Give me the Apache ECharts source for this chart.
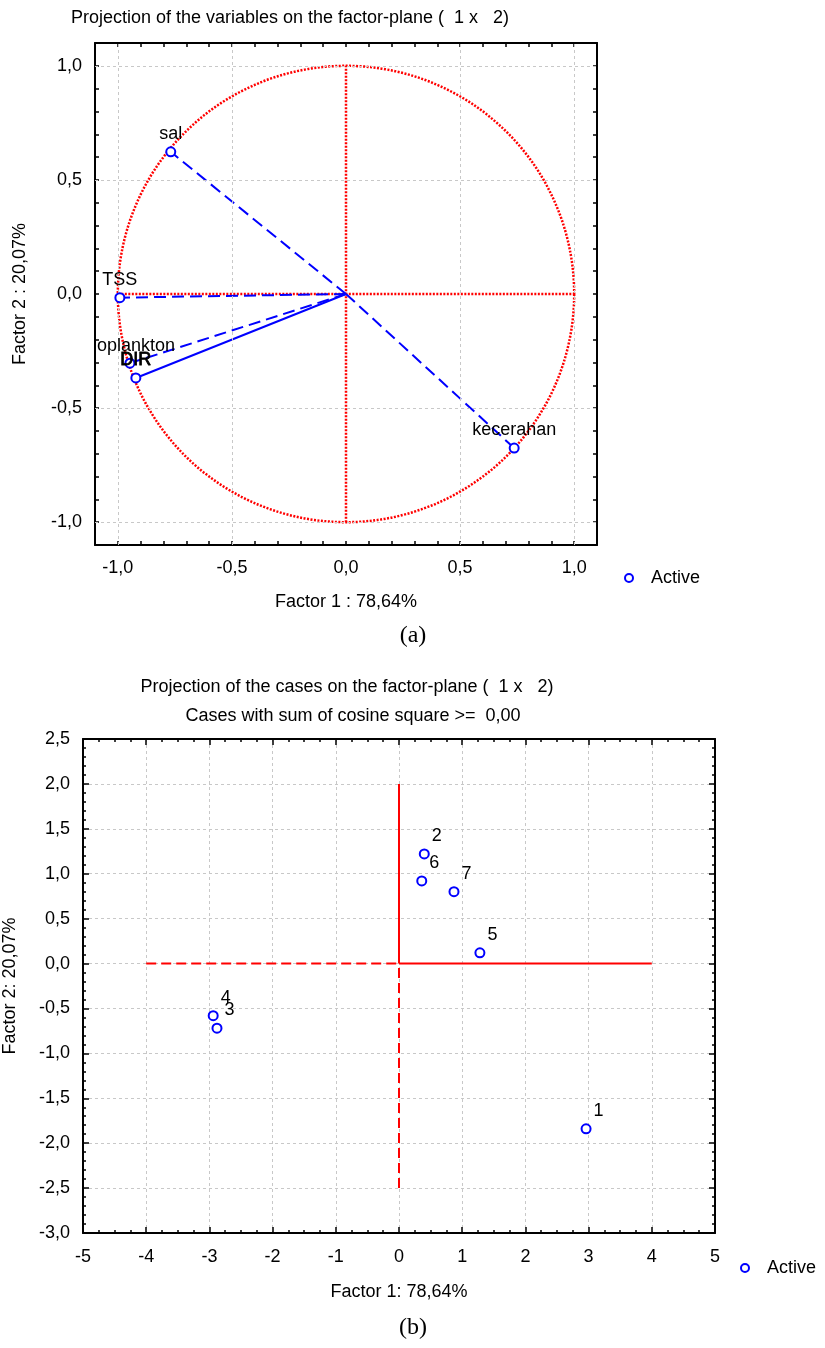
<!DOCTYPE html>
<html>
<head>
<meta charset="utf-8">
<script src="https://cdn.jsdelivr.net/npm/echarts@6/dist/echarts.min.js"></script>
<style>
  html, body { margin: 0; padding: 0; background: #fff; }
  #main { width: 825px; height: 1348px; }
</style>
</head>
<body>
<div id="main"></div>
<script>
// (a) projection of the variables
const varNames = ['sal', 'TSS', 'oplankton', 'DIR', 'kecerahan'];
const varF1 = [-0.768, -0.991, -0.947, -0.921, 0.737];
const varF2 = [0.623, -0.016, -0.303, -0.368, -0.675];
const varSolid = [false, false, false, true, false];
const unitCircle = [[0, 0, 1]];
const crossH = [[-1, 0], [1, 0]];
const crossV = [[0, -1], [0, 1]];
const varGridTicks = [-1, -0.5, 0.5, 1];

// (b) projection of the cases
const caseIds = ['1', '2', '3', '4', '5', '6', '7'];
const caseF1 = [2.96, 0.40, -2.88, -2.94, 1.28, 0.36, 0.87];
const caseF2 = [-1.84, 1.22, -0.72, -0.58, 0.12, 0.92, 0.80];
const refSolid = [[[0, 0], [4, 0]], [[0, 0], [0, 2]]];
const refDashed = [[[-4, 0], [0, 0]], [[0, -2.5], [0, 0]]];

const FONT = 'Liberation Sans';
const BLUE = '#0000ff';
const RED = '#ff0000';
const FS = 18;

function comma(v, d) {
  return v.toFixed(d).replace('.', ',');
}

const chart = echarts.init(document.getElementById('main'));

// axis helpers
function boxAxis(gridIndex, pos, min, max, interval, minorSplit, tickLen) {
  return {
    gridIndex: gridIndex, type: 'value', position: pos,
    min: min, max: max, interval: interval,
    axisLine: { show: true, onZero: false, lineStyle: { color: '#000', width: 2 } },
    axisTick: { show: true, inside: true, length: tickLen, lineStyle: { color: '#000', width: 1.5 } },
    minorTick: minorSplit ? { show: true, splitNumber: minorSplit, length: 3, lineStyle: { color: '#000', width: 1.5 } } : { show: false },
    axisLabel: { show: false },
    splitLine: { show: false }
  };
}

const nameStyle = { fontSize: FS, fontFamily: FONT, color: '#000' };

function halfStep(v) {
  return Math.abs(v * 2 - Math.round(v * 2)) < 1e-6 ? comma(v, 1) : '';
}

const xA0 = boxAxis(0, 'bottom', -1.1, 1.1, 0.1, 0, 4);
xA0.axisLabel = { show: true, margin: 14, fontSize: FS, fontFamily: FONT, color: '#000', formatter: halfStep };
xA0.name = 'Factor 1 : 78,64%';
xA0.nameLocation = 'middle';
xA0.nameGap = 48;
xA0.nameTextStyle = nameStyle;

const yA0 = boxAxis(0, 'left', -1.1, 1.1, 0.1, 0, 4);
yA0.axisLabel = { show: true, margin: 13, fontSize: FS, fontFamily: FONT, color: '#000', formatter: halfStep };
yA0.name = 'Factor 2 : 20,07%';
yA0.nameLocation = 'middle';
yA0.nameGap = 66;
yA0.nameTextStyle = nameStyle;

const xA1 = boxAxis(0, 'top', -1.1, 1.1, 0.1, 0, 4);
const yA1 = boxAxis(0, 'right', -1.1, 1.1, 0.1, 0, 4);

const xB0 = boxAxis(1, 'bottom', -5, 5, 1, 4, 6);
xB0.axisLabel = { show: true, margin: 15, fontSize: FS, fontFamily: FONT, color: '#000', formatter: function (v) { return String(v); } };
xB0.splitLine = { show: true, lineStyle: { color: '#c8c8c8', type: [3, 3], width: 1 } };
xB0.name = 'Factor 1: 78,64%';
xB0.nameLocation = 'middle';
xB0.nameGap = 50;
xB0.nameTextStyle = nameStyle;

const yB0 = boxAxis(1, 'left', -3, 2.5, 0.5, 5, 6);
yB0.axisLabel = { show: true, margin: 13, fontSize: FS, fontFamily: FONT, color: '#000', formatter: function (v) { return comma(v, 1); } };
yB0.splitLine = { show: true, lineStyle: { color: '#c8c8c8', type: [3, 3], width: 1 } };
yB0.name = 'Factor 2: 20,07%';
yB0.nameLocation = 'middle';
yB0.nameGap = 64;
yB0.nameTextStyle = nameStyle;

const xB1 = boxAxis(1, 'top', -5, 5, 1, 4, 6);
const yB1 = boxAxis(1, 'right', -3, 2.5, 0.5, 5, 6);

const series = [];

// grid lines of (a)
series.push({
  type: 'line', xAxisIndex: 0, yAxisIndex: 0, data: [], silent: true, z: 1,
  markLine: {
    silent: true, symbol: 'none', animation: false, label: { show: false },
    lineStyle: { color: '#c8c8c8', type: [3, 3], width: 1 },
    data: varGridTicks.map(function (v) { return { xAxis: v }; })
      .concat(varGridTicks.map(function (v) { return { yAxis: v }; }))
  }
});

// unit circle
series.push({
  type: 'custom', xAxisIndex: 0, yAxisIndex: 0, data: unitCircle, silent: true, z: 2,
  renderItem: function (params, api) {
    const c = api.coord([api.value(0), api.value(1)]);
    const s = api.size([api.value(2), api.value(2)]);
    return {
      type: 'circle',
      shape: { cx: c[0], cy: c[1], r: (s[0] + s[1]) / 2 },
      style: { fill: 'none', stroke: RED, lineWidth: 2.5, lineDash: [2, 1.5] }
    };
  }
});

[crossH, crossV].forEach(function (d) {
  series.push({
    type: 'line', xAxisIndex: 0, yAxisIndex: 0, data: d, symbol: 'none', silent: true, z: 2,
    lineStyle: { color: RED, width: 2.5, type: [2, 1.5] }
  });
});

// vectors from origin
varNames.forEach(function (n, i) {
  series.push({
    type: 'line', xAxisIndex: 0, yAxisIndex: 0, symbol: 'none', silent: true, z: 3,
    data: [[0, 0], [varF1[i], varF2[i]]],
    lineStyle: { color: BLUE, width: 2, type: varSolid[i] ? 'solid' : [12, 6] }
  });
});

series.push({
  name: 'Active', type: 'scatter', xAxisIndex: 0, yAxisIndex: 0, z: 5,
  symbol: 'circle', symbolSize: 9,
  itemStyle: { color: '#fff', borderColor: BLUE, borderWidth: 2, opacity: 1 },
  data: varNames.map(function (n, i) {
    return {
      name: n, value: [varF1[i], varF2[i]],
      label: {
        show: true, position: 'top', distance: 3, formatter: n,
        fontSize: FS, fontFamily: FONT, color: '#000', opacity: 1,
        textBorderWidth: n === 'DIR' ? 0.8 : 0, textBorderColor: '#000',
        offset: n === 'oplankton' ? [6, 0] : [0, 0]
      }
    };
  })
});

// reference lines of (b)
refSolid.forEach(function (d) {
  series.push({
    type: 'line', xAxisIndex: 2, yAxisIndex: 2, data: d, symbol: 'none', silent: true, z: 3,
    lineStyle: { color: RED, width: 2, type: 'solid' }
  });
});
refDashed.forEach(function (d) {
  series.push({
    type: 'line', xAxisIndex: 2, yAxisIndex: 2, data: d, symbol: 'none', silent: true, z: 3,
    lineStyle: { color: RED, width: 2, type: [10, 5] }
  });
});

series.push({
  name: 'Active', type: 'scatter', xAxisIndex: 2, yAxisIndex: 2, z: 5,
  symbol: 'circle', symbolSize: 9,
  itemStyle: { color: '#fff', borderColor: BLUE, borderWidth: 2, opacity: 1 },
  label: {
    show: true, position: 'right', distance: 5, offset: [-3, -18],
    fontSize: FS, fontFamily: FONT, color: '#000', opacity: 1, textBorderWidth: 0,
    formatter: function (p) { return p.name; }
  },
  data: caseIds.map(function (id, i) {
    return { name: id, value: [caseF1[i], caseF2[i]] };
  })
});

function legendMark(cx, cy) {
  return [
    { type: 'circle', shape: { cx: cx, cy: cy, r: 4 }, style: { fill: '#fff', stroke: BLUE, lineWidth: 2 } },
    { type: 'text', x: cx + 22, y: cy, style: { text: 'Active', font: FS + 'px ' + FONT, fill: '#000', textVerticalAlign: 'middle' } }
  ];
}

function centerText(txt, x, y, font) {
  return { type: 'text', x: x, y: y, style: { text: txt, font: font, fill: '#000', textAlign: 'center', textVerticalAlign: 'middle' } };
}

const graphics = [
  centerText('Projection of the variables on the factor-plane (  1 x   2)', 290, 18, '18px ' + FONT),
  centerText('Projection of the cases on the factor-plane (  1 x   2)', 347, 687, '18px ' + FONT),
  centerText('Cases with sum of cosine square >=  0,00', 353, 716, '18px ' + FONT),
  centerText('(a)', 413, 636, '24px Liberation Serif'),
  centerText('(b)', 413, 1328, '24px Liberation Serif')
].concat(legendMark(629, 578)).concat(legendMark(745, 1268));

chart.setOption({
  animation: false,
  backgroundColor: '#fff',
  grid: [
    { left: 95, top: 43, width: 502, height: 502, containLabel: false, outerBoundsMode: 'none' },
    { left: 83, top: 739, width: 632, height: 494, containLabel: false, outerBoundsMode: 'none' }
  ],
  xAxis: [xA0, xA1, xB0, xB1],
  yAxis: [yA0, yA1, yB0, yB1],
  series: series,
  graphic: graphics
});
</script>
</body>
</html>
